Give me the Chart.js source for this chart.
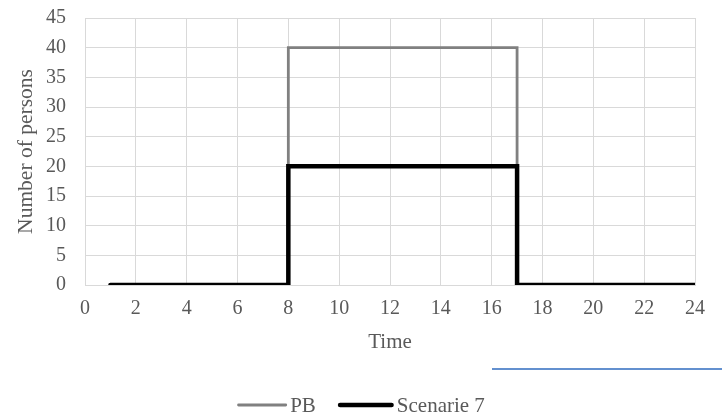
<!DOCTYPE html>
<html>
<head>
<meta charset="utf-8">
<script src="https://cdn.jsdelivr.net/npm/chart.js@4"></script>
<style>
  html, body { margin: 0; padding: 0; background: #fff; }
  #wrap { width: 722px; height: 417px; position: relative; }
</style>
</head>
<body>
<div id="wrap"><canvas id="c" width="722" height="417"></canvas></div>
<script>
// Data
const times = [1, 8, 8, 17, 17, 24];
const pbValues = [0, 0, 40, 40, 0, 0];
const scen7Values = [0, 0, 20, 20, 0, 0];
const seriesNames = ['PB', 'Scenarie 7'];
const xTitle = 'Time';
const yTitle = 'Number of persons';

const FONT = "'Liberation Serif', 'Times New Roman', serif";
const TXT = '#595959';
const GRID = '#d9d9d9';

const toPoints = (xs, ys) => xs.map((x, i) => ({ x: x, y: ys[i] }));

const customLegend = {
  id: 'customLegend',
  afterDraw(chart) {
    const ctx = chart.ctx;
    const ds = chart.data.datasets;
    ctx.save();
    ctx.font = '21px ' + FONT;
    const sampleW = [50, 56];
    const gapText = 3, gapItem = 22;
    let total = 0;
    ds.forEach((d, i) => {
      total += sampleW[i] + gapText + ctx.measureText(d.label).width;
      if (i < ds.length - 1) total += gapItem;
    });
    let x = (chart.width - total) / 2 + 0;
    const y = 405;
    ds.forEach((d, i) => {
      ctx.beginPath();
      ctx.strokeStyle = d.borderColor;
      ctx.lineWidth = d.borderWidth;
      ctx.lineCap = 'round';
      ctx.moveTo(x + d.borderWidth / 2, y);
      ctx.lineTo(x + sampleW[i] - d.borderWidth / 2, y);
      ctx.stroke();
      x += sampleW[i] + gapText;
      ctx.fillStyle = TXT;
      ctx.textBaseline = 'middle';
      ctx.textAlign = 'left';
      ctx.fillText(d.label, x, y + 1);
      x += ctx.measureText(d.label).width + gapItem;
    });
    // decorative blue rule at lower right
    ctx.beginPath();
    ctx.strokeStyle = '#2f6bbf';
    ctx.lineWidth = 1.5;
    ctx.lineCap = 'butt';
    ctx.moveTo(492, 369);
    ctx.lineTo(chart.width, 369);
    ctx.stroke();
    ctx.restore();
  }
};

new Chart(document.getElementById('c'), {
  type: 'line',
  data: {
    datasets: [
      {
        label: seriesNames[0],
        data: toPoints(times, pbValues),
        borderColor: '#808080',
        borderWidth: 2.8,
        borderCapStyle: 'butt',
        borderJoinStyle: 'miter',
        pointRadius: 0,
        fill: false,
        tension: 0,
        order: 2
      },
      {
        label: seriesNames[1],
        data: toPoints(times, scen7Values),
        borderColor: '#000000',
        borderWidth: 4.5,
        borderCapStyle: 'round',
        borderJoinStyle: 'miter',
        pointRadius: 0,
        fill: false,
        tension: 0,
        order: 1
      }
    ]
  },
  options: {
    responsive: false,
    animation: false,
    layout: { padding: { top: 18, right: 27, bottom: 62, left: 0 } },
    plugins: {
      legend: { display: false },
      tooltip: { enabled: false }
    },
    scales: {
      x: {
        type: 'linear',
        min: 0, max: 24,
        ticks: { stepSize: 2, color: TXT, font: { family: FONT, size: 20 }, padding: 12, maxRotation: 0 },
        grid: { color: GRID, lineWidth: 1, drawTicks: false },
        border: { color: GRID, width: 1 },
        title: { display: true, text: xTitle, color: TXT, font: { family: FONT, size: 21 }, padding: 0 },
        afterFit(s) { s.height = 70; s.paddingLeft = 0; s.paddingRight = 0; }
      },
      y: {
        min: 0, max: 45,
        ticks: { stepSize: 5, color: TXT, font: { family: FONT, size: 20 }, padding: 19 },
        grid: { color: GRID, lineWidth: 1, drawTicks: false },
        border: { color: GRID, width: 1 },
        title: { display: true, text: yTitle, color: TXT, font: { family: FONT, size: 21.5 }, padding: { top: 13, bottom: 0 } },
        afterFit(s) { s.width = 85; s.paddingTop = 0; s.paddingBottom = 0; }
      }
    }
  },
  plugins: [customLegend]
});
</script>
</body>
</html>
